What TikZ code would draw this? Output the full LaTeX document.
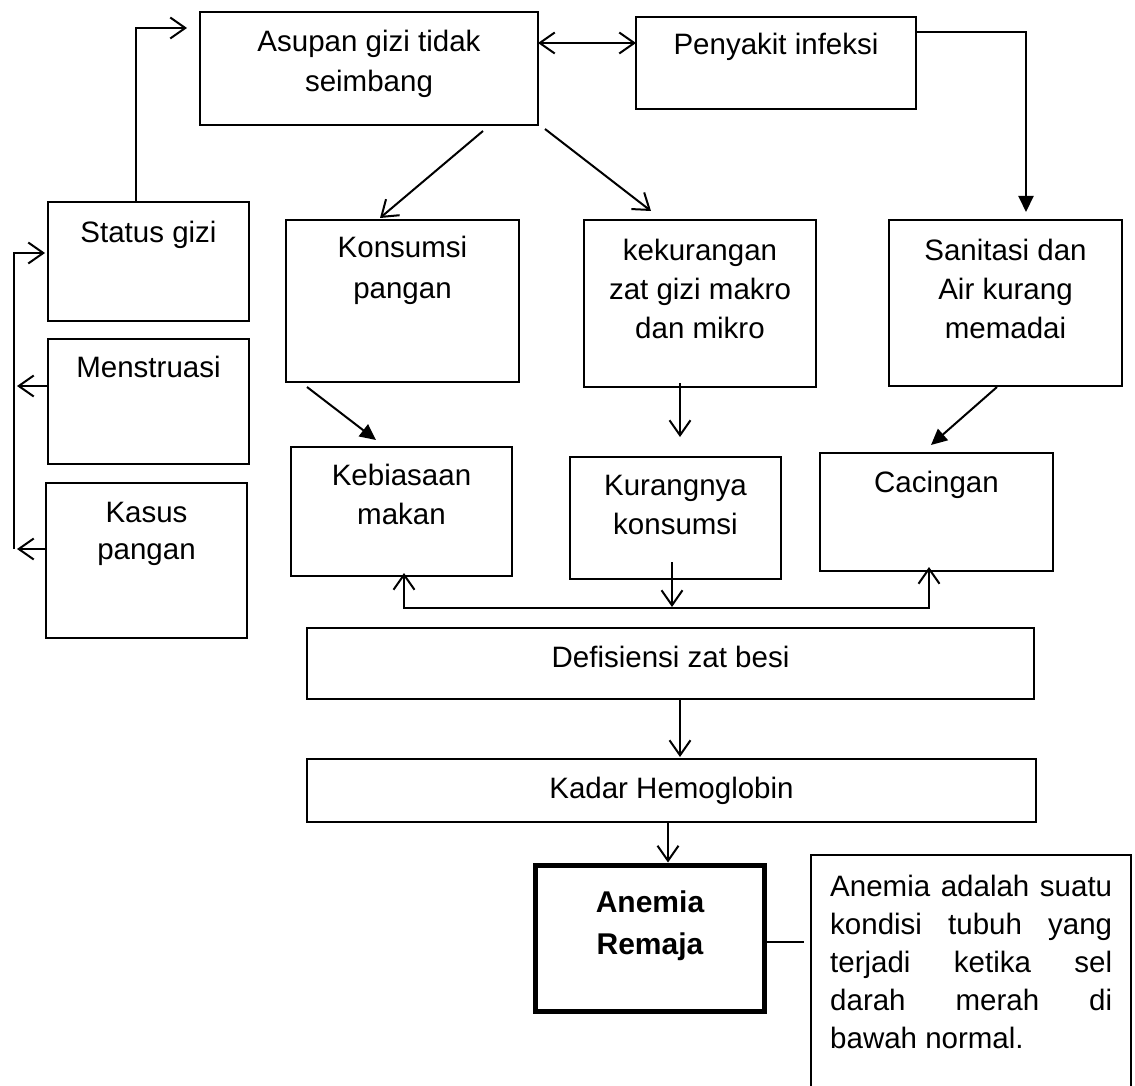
\documentclass[tikz,border=0pt]{standalone}
\usepackage{fontspec}
\setmainfont{Liberation Sans}
\usetikzlibrary{arrows.meta,calc}
\tikzset{
  every node/.style={font=\fontsize{29.5}{39}\selectfont},
  frame/.style={draw, line width=1.3pt, inner sep=0pt, outer sep=0pt, anchor=north west},
  lbl/.style={inner sep=0pt, align=center, anchor=base},
  conn/.style={line width=2pt},
  oarr/.style={conn, -{Straight Barb[length=15pt,width=21pt,line width=2pt]}},
  darr/.style={conn, {Straight Barb[length=15pt,width=21pt,line width=2pt]}-{Straight Barb[length=15pt,width=21pt,line width=2pt]}},
  farr/.style={conn, -{Triangle[length=16pt,width=15pt]}},
}
\newcommand{\jline}[1]{\hbox to 282pt{#1}}
\begin{document}
\begin{tikzpicture}[x=1pt,y=-1pt]
\useasboundingbox (0,0) rectangle (1135,1086);
\clip (0,0) rectangle (1135,1086);
% frames
\node[frame, minimum width=338pt, minimum height=113pt] (A) at (200,12) {};
\node[frame, minimum width=280pt, minimum height=92pt] (P) at (636,17) {};
\node[frame, minimum width=201pt, minimum height=119pt] (sg) at (48,202) {};
\node[frame, minimum width=201pt, minimum height=125pt] (me) at (48,339) {};
\node[frame, minimum width=201pt, minimum height=155pt] (ka) at (46,483) {};
\node[frame, minimum width=233pt, minimum height=162pt] (K) at (286,220) {};
\node[frame, minimum width=232pt, minimum height=167pt] (KZ) at (584,220) {};
\node[frame, minimum width=233pt, minimum height=166pt] (S) at (889,220) {};
\node[frame, minimum width=221pt, minimum height=129pt] (KM) at (291,447) {};
\node[frame, minimum width=211pt, minimum height=122pt] (KR) at (570,457) {};
\node[frame, minimum width=233pt, minimum height=118pt] (C) at (820,453) {};
\node[frame, minimum width=727pt, minimum height=71pt] (D) at (307,628) {};
\node[frame, minimum width=729pt, minimum height=63pt] (H) at (307,759) {};
\node[frame, line width=5pt, minimum width=229pt, minimum height=146pt] (AR) at (535.5,865.5) {};
\node[frame, minimum width=320pt, minimum height=260pt] (DEF) at (811,855) {};
% labels (anchor base = baseline of the last line)
\node[lbl] (At) at ($(A.north)+(0,80)$) {Asupan gizi tidak\\[1pt]seimbang};
\node[lbl] (Pt) at ($(P.north)+(0,38)$) {Penyakit infeksi};
\node[lbl] (sgt) at ($(sg.north)+(0,40)$) {Status gizi};
\node[lbl] (met) at ($(me.north)+(0,38)$) {Menstruasi};
\node[lbl] (kat) at ($(ka.north)+(0,76)$) {Kasus\\[-2pt]pangan};
\node[lbl] (Kt) at ($(K.north)+(0,78)$) {Konsumsi\\[1pt]pangan};
\node[lbl] (KZt) at ($(KZ.north)+(0,118)$) {kekurangan\\zat gizi makro\\dan mikro};
\node[lbl] (St) at ($(S.north)+(0,118)$) {Sanitasi dan\\Air kurang\\memadai};
\node[lbl] (KMt) at ($(KM.north)+(0,77)$) {Kebiasaan\\makan};
\node[lbl] (KRt) at ($(KR.north)+(0,77)$) {Kurangnya\\konsumsi};
\node[lbl] (Ct) at ($(C.north)+(0,39)$) {Cacingan};
\node[lbl] (Dt) at ($(D.north)+(0,39)$) {Defisiensi zat besi};
\node[lbl] (Ht) at ($(H.north)+(0,39)$) {Kadar Hemoglobin};
\node[lbl, font=\fontsize{30}{42}\selectfont\bfseries] (ARt) at ($(AR.north)+(0,88.5)$) {Anemia\\Remaja};
\node[inner sep=0pt, anchor=north west, align=left, font=\fontsize{29.5}{38}\selectfont] (DEFt) at ($(DEF.north west)+(19,20)$)
 {\jline{Anemia\hfill adalah\hfill suatu}\\
  \jline{kondisi\hfill tubuh\hfill yang}\\
  \jline{terjadi\hfill ketika\hfill sel}\\
  \jline{darah\hfill merah\hfill di}\\
  bawah normal.};
% connectors
\draw[oarr] ($(sg.north west)+(88,0)$) |- ($(A.north west)+(-13,16)$);
\draw[darr] ($(A.north east)+(0,31)$) -- ($(P.north west)+(0,26)$);
\draw[farr] ($(P.north east)+(0,15)$) -| ($(S.north west)+(137,-8)$);
\draw[oarr] ($(A.south west)+(283,6)$) -- ($(K.north west)+(94,-2)$);
\draw[oarr] ($(A.south west)+(345,4)$) -- ($(KZ.north west)+(67,-9)$);
\draw[farr] ($(K.south west)+(21,5)$) -- ($(KM.north west)+(85,-7)$);
\draw[oarr] ($(KZ.south west)+(96,-4)$) -- ($(KR.north west)+(110,-20)$);
\draw[farr] ($(S.south west)+(108,1)$) -- ($(C.north west)+(111,-8)$);
\coordinate (bus) at ($(KR.south west)+(102,29)$);
\draw[oarr] ($(KR.south west)+(102,-17)$) -- ($(bus)+(0,-1)$);
\draw[oarr] (bus) -| ($(KM.south west)+(113,-3)$);
\draw[oarr] (bus) -| ($(C.south west)+(109,-4)$);
\draw[oarr] ($(D.south west)+(373,0)$) -- ($(H.north west)+(373,-2)$);
\draw[oarr] ($(H.south west)+(361,0)$) -- ($(AR.north west)+(132.5,-3)$);
\draw[line width=1.5pt] ($(AR.north east)+(2.5,76.5)$) -- ($(DEF.north west)+(-7,87)$);
\draw[oarr] ($(ka.north west)+(-32,66)$) |- ($(sg.north west)+(-3,51)$);
\draw[oarr] ($(me.north west)+(0,47)$) -- ($(me.north west)+(-31,47)$);
\draw[oarr] ($(ka.north west)+(0,66)$) -- ($(ka.north west)+(-29,66)$);
\end{tikzpicture}
\end{document}
